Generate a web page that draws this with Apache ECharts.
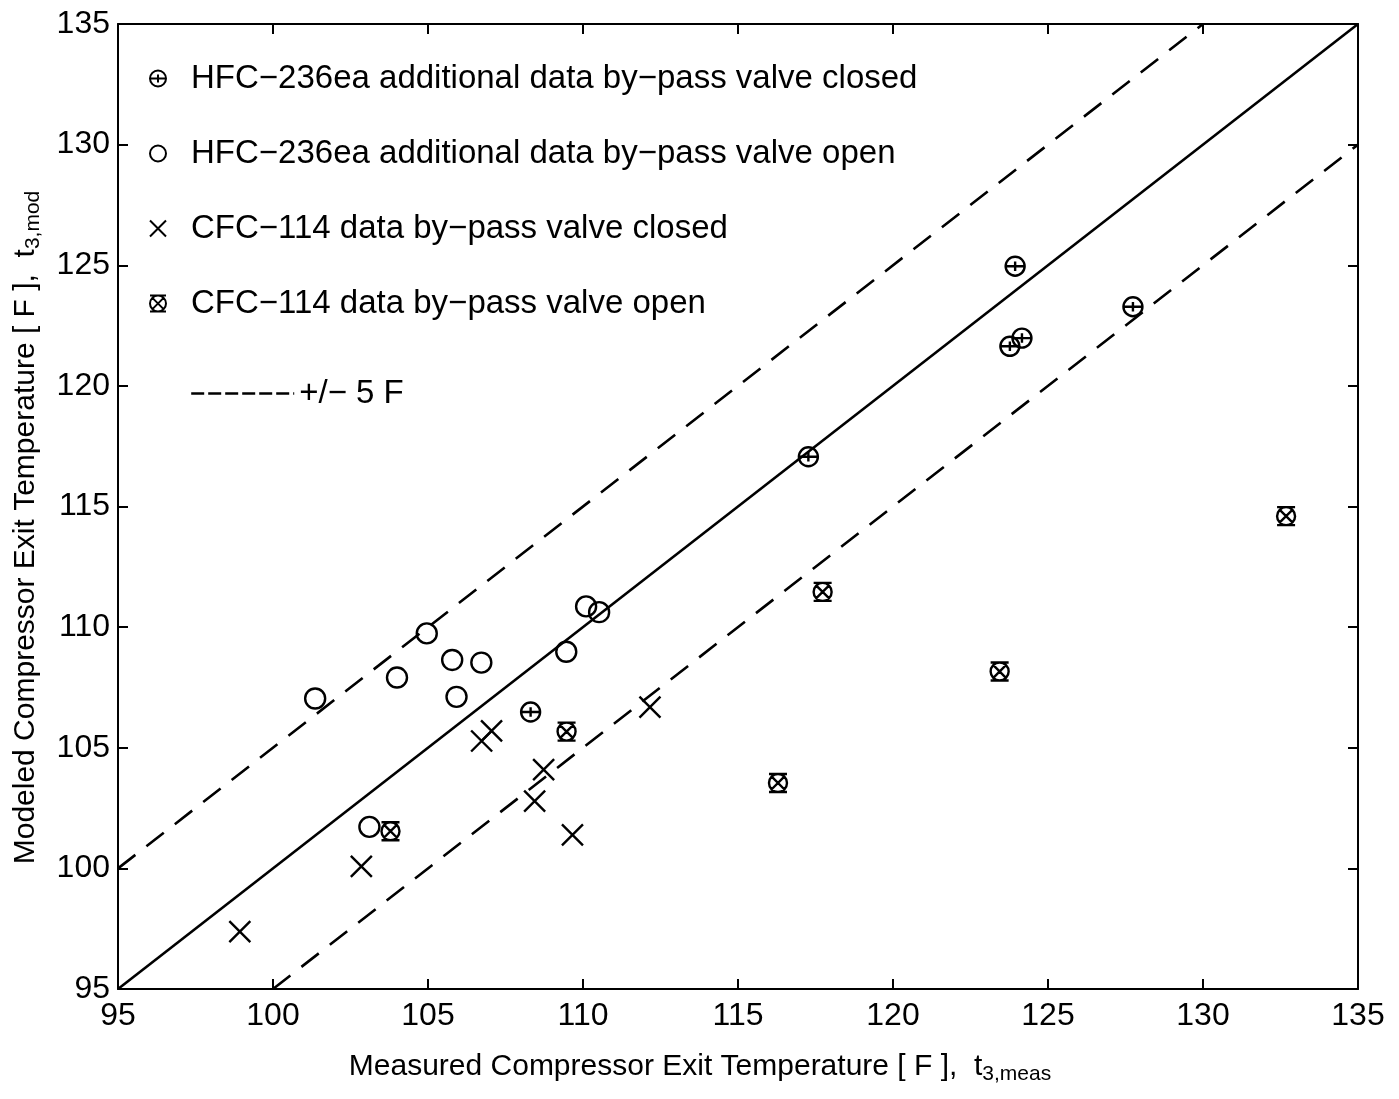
<!DOCTYPE html>
<html>
<head>
<meta charset="utf-8">
<script src="https://cdn.jsdelivr.net/npm/echarts@6/dist/echarts.min.js"></script>
<style>
  html, body { margin: 0; padding: 0; background: #fff; }
  #main { width: 1399px; height: 1099px; }
</style>
</head>
<body>
<div id="main"></div>
<script>
// values
const hfcClosedX = [123.94, 123.77, 124.16, 127.74, 117.27, 108.31]
const hfcClosedY = [124.96, 121.64, 121.98, 123.28, 117.06, 106.48]
const hfcOpenX = [101.36, 104.00, 104.96, 105.78, 105.92, 106.72, 109.46, 110.10, 110.52, 103.11]
const hfcOpenY = [107.04, 107.91, 109.74, 108.64, 107.11, 108.53, 108.98, 110.86, 110.62, 101.72]
const cfcClosedX = [98.93, 102.85, 106.73, 107.05, 108.73, 108.44, 109.66, 112.16]
const cfcClosedY = [97.38, 100.08, 105.28, 105.70, 104.09, 102.79, 101.39, 106.68]
const cfcOpenX = [103.79, 109.47, 117.73, 116.29, 123.44, 132.68]
const cfcOpenY = [101.54, 105.67, 111.46, 103.54, 108.16, 114.60]

// y = x and +/- 5 F lines
const fitX = [95, 135]
const fitY = [95, 135]
const upperX = [95, 130]
const upperY = [100, 135]
const lowerX = [100, 135]
const lowerY = [95, 130]

const names = [
  'HFC\u2212236ea additional data by\u2212pass valve closed',
  'HFC\u2212236ea additional data by\u2212pass valve open',
  'CFC\u2212114 data by\u2212pass valve closed',
  'CFC\u2212114 data by\u2212pass valve open'
]
const bandName = '+/\u2212 5 F'

const font = 'Liberation Sans, Arial, sans-serif'

const symClosed = 'path://M10 0A10 10 0 1 1 -10 0A10 10 0 1 1 10 0Z M-10 0L10 0 M0 -5L0 5'
const symOpen = 'path://M10 0A10 10 0 1 1 -10 0A10 10 0 1 1 10 0Z'
const symCross = 'path://M-10 -10L10 10M10 -10L-10 10'
const symBoxCross = 'path://M-10 -10L10 -10M-10 10L10 10M-7 -7L7 7M7 -7L-7 7M10 0A10 10 0 1 1 -10 0A10 10 0 1 1 10 0Z'

function zip(xs, ys) {
  return xs.map((x, i) => [x, ys[i]])
}

const markStyle = { color: 'rgba(0,0,0,0)', borderColor: '#000', borderWidth: 2.4, opacity: 1 }

function axisBase(pos, showLabel) {
  return {
    type: 'value',
    position: pos,
    min: 95,
    max: 135,
    interval: 5,
    axisLine: { show: true, onZero: false, lineStyle: { color: '#000', width: 2 } },
    axisTick: { show: true, inside: true, length: 10, lineStyle: { color: '#000', width: 2 } },
    axisLabel: { show: showLabel, color: '#000', fontFamily: font, fontSize: 32 },
    splitLine: { show: false }
  }
}

const chart = echarts.init(document.getElementById('main'))

const xBottom = axisBase('bottom', true)
xBottom.axisLabel.margin = 11
xBottom.name = 'Measured Compressor Exit Temperature [ F ],  t{sub|3,meas}'
xBottom.nameLocation = 'middle'
xBottom.nameGap = 62
xBottom.nameTextStyle = {
  color: '#000', fontFamily: font, fontSize: 30, lineHeight: 32,
  padding: [0, 76, 0, 0],
  rich: { sub: { fontFamily: font, fontSize: 21, padding: [15, 0, 0, 0], color: '#000' } }
}
const yLeft = axisBase('left', true)
yLeft.axisLabel.margin = 8
yLeft.name = 'Modeled Compressor Exit Temperature [ F ],  t{sub|3,mod}'
yLeft.nameLocation = 'middle'
yLeft.nameGap = 76
yLeft.nameRotate = 90
yLeft.nameTextStyle = {
  color: '#000', fontFamily: font, fontSize: 30, lineHeight: 32,
  padding: [0, 42, 0, 0],
  rich: { sub: { fontFamily: font, fontSize: 21, padding: [15, 0, 0, 0], color: '#000' } }
}

const option = {
  backgroundColor: '#fff',
  animation: false,
  grid: { left: 118, right: 41, top: 24, bottom: 110 },
  xAxis: [xBottom, axisBase('top', false)],
  yAxis: [yLeft, axisBase('right', false)],
  legend: [
    {
      data: names,
      orient: 'vertical',
      left: 149,
      top: 61,
      padding: 0,
      itemGap: 40,
      itemWidth: 56,
      itemHeight: 16,
      textStyle: { color: '#000', fontFamily: font, fontSize: 33, lineHeight: 35 }
    },
    {
      data: [bandName],
      left: 190,
      top: 376,
      padding: 0,
      itemWidth: 103,
      itemHeight: 14,
      itemStyle: { color: 'rgba(0,0,0,0)', borderWidth: 0 },
      lineStyle: { type: [13, 4], width: 2.4 },
      textStyle: { color: '#000', fontFamily: font, fontSize: 33, lineHeight: 35 }
    }
  ],
  series: [
    {
      name: 'fit',
      type: 'line',
      data: zip(fitX, fitY),
      symbol: 'none',
      lineStyle: { color: '#000', width: 2.6 },
      silent: true
    },
    {
      name: bandName,
      type: 'line',
      data: zip(upperX, upperY),
      symbol: 'none',
      lineStyle: { color: '#000', width: 2.6, type: [22, 14] },
      itemStyle: { color: '#000' },
      silent: true
    },
    {
      name: bandName,
      type: 'line',
      data: zip(lowerX, lowerY),
      symbol: 'none',
      lineStyle: { color: '#000', width: 2.6, type: [22, 14] },
      itemStyle: { color: '#000' },
      silent: true
    },
    {
      name: names[0],
      type: 'scatter',
      data: zip(hfcClosedX, hfcClosedY),
      symbol: symClosed,
      symbolSize: 19,
      itemStyle: markStyle
    },
    {
      name: names[1],
      type: 'scatter',
      data: zip(hfcOpenX, hfcOpenY),
      symbol: symOpen,
      symbolSize: 20,
      itemStyle: markStyle
    },
    {
      name: names[2],
      type: 'scatter',
      data: zip(cfcClosedX, cfcClosedY),
      symbol: symCross,
      symbolSize: 21,
      itemStyle: markStyle
    },
    {
      name: names[3],
      type: 'scatter',
      data: zip(cfcOpenX, cfcOpenY),
      symbol: symBoxCross,
      symbolSize: 18,
      itemStyle: markStyle
    }
  ]
}

chart.setOption(option)
</script>
</body>
</html>
